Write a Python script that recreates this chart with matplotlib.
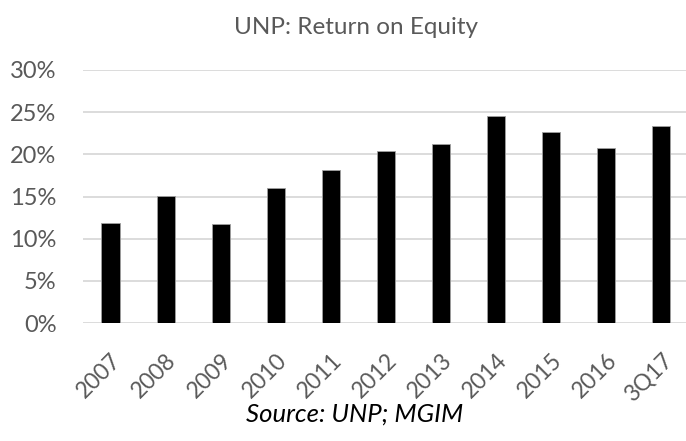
import matplotlib.pyplot as plt
import matplotlib.transforms as mtransforms
from matplotlib.ticker import PercentFormatter

years = ['2007', '2008', '2009', '2010', '2011', '2012', '2013', '2014', '2015', '2016', '3Q17']
roe = [11.9, 15.1, 11.7, 16.0, 18.1, 20.4, 21.2, 24.5, 22.7, 20.8, 23.4]

plt.rcParams['font.family'] = ['Lato', 'DejaVu Sans']

fig = plt.figure(figsize=(6.86, 4.41), dpi=100)
ax = fig.add_axes([83/686, 118/441, 603/686, 253/441])

x = range(len(years))
ax.bar(x, roe, width=0.33, color='black', edgecolor='#a0a0a0', linewidth=0.6, zorder=3)

ax.set_ylim(0, 30)
ax.set_yticks([0, 5, 10, 15, 20, 25, 30])
ax.yaxis.set_major_formatter(PercentFormatter(decimals=0))
ax.set_xlim(-0.5, 10.45)
ax.set_xticks(list(x))
ax.set_xticklabels(years, rotation=45, ha='right', rotation_mode='anchor')

# nudge x labels so their ends sit just right of the bar centre
offset = mtransforms.ScaledTranslation(-4/100, 0, fig.dpi_scale_trans)
for lbl in ax.get_xticklabels():
    lbl.set_transform(lbl.get_transform() + offset)

ax.grid(axis='y', color='#d9d9d9', linewidth=1.3, zorder=0)
for s in ['top', 'right', 'left', 'bottom']:
    ax.spines[s].set_visible(False)
ax.tick_params(axis='both', length=0, colors='#595959')
ax.tick_params(axis='y', labelsize=17, pad=19)
ax.tick_params(axis='x', labelsize=16.5, pad=19)

fig.text(356/686, 1 - 28/441, 'UNP: Return on Equity', ha='center', va='center',
         fontsize=17.5, color='#595959')
fig.text(355/686, 1 - 414/441, 'Source: UNP; MGIM', ha='center', va='center',
         fontsize=18.5, style='italic', color='black')

fig.savefig('out.png', dpi=100)
